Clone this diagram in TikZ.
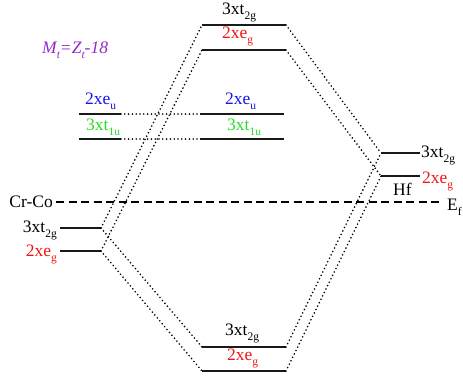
\documentclass[tikz,border=0pt]{standalone}
\usepackage{fontspec}
\setmainfont{Liberation Serif}
\definecolor{myred}{RGB}{240,20,20}
\definecolor{myblue}{RGB}{20,20,240}
\definecolor{mygreen}{RGB}{40,220,40}
\definecolor{mypurple}{RGB}{150,40,200}
\newcommand{\lsub}[1]{\raisebox{-5.5pt}{\fontsize{11.5}{11.5}\selectfont #1}}
\begin{document}
\begin{tikzpicture}[x=1pt,y=-1pt,
  lvl/.style={line width=1.6pt, black!90},
  conn/.style={line width=1.8pt, dash pattern=on 0pt off 3.8pt, line cap=round},
  fermi/.style={line width=1.3pt, dash pattern=on 8pt off 4.5pt},
  lbl/.style={inner sep=0pt, font=\fontsize{17.5}{17.5}\selectfont}]
\useasboundingbox (0,0) rectangle (463,381);
% left levels
\coordinate (L1a) at (79,114);  \coordinate (L1b) at (121,114);
\coordinate (L2a) at (79,139);  \coordinate (L2b) at (121,139);
\coordinate (L3a) at (60,228);  \coordinate (L3b) at (101,228);
\coordinate (L4a) at (60,251);  \coordinate (L4b) at (101,251);
% center levels
\coordinate (C1a) at (202,25);  \coordinate (C1b) at (286,25);
\coordinate (C2a) at (202,50);  \coordinate (C2b) at (286,50);
\coordinate (C3a) at (200,114); \coordinate (C3b) at (284,114);
\coordinate (C4a) at (200,139); \coordinate (C4b) at (284,139);
\coordinate (C5a) at (202,347); \coordinate (C5b) at (286,347);
\coordinate (C6a) at (202,371); \coordinate (C6b) at (286,371);
% right levels
\coordinate (R1a) at (381,153); \coordinate (R1b) at (420,153);
\coordinate (R2a) at (381,176); \coordinate (R2b) at (420,176);
% fermi
\coordinate (FL) at (56,202); \coordinate (FR) at (442,202);

\foreach \p in {L1,L2,L3,L4,C1,C2,C3,C4,C5,C6,R1,R2}
  \draw[lvl] (\p a) -- (\p b);

\draw[fermi] (FL) -- (FR);

\draw[conn] (L1b) -- (C3a);
\draw[conn] (L2b) -- (C4a);
\draw[conn] (L3b) -- (C1a);
\draw[conn] (L4b) -- (C2a);
\draw[conn] (L3b) -- (C5a);
\draw[conn] (L4b) -- (C6a);
\draw[conn] (C1b) -- (R1a);
\draw[conn] (C2b) -- (R2a);
\draw[conn] (C5b) -- (R1a);
\draw[conn] (C6b) -- (R2a);

% labels
\node[lbl, text=mypurple, anchor=base west] (mt) at (42,53) {\textit{M\lsub{t}=Z\lsub{t}-18}};
\node[lbl, anchor=base west] (tC1) at (222,14) {3xt\lsub{2g}};
\node[lbl, text=myred, anchor=base west] (tC2) at (222,38) {2xe\lsub{g}};
\node[lbl, text=myblue, anchor=base west] (tC3) at (225,104) {2xe\lsub{u}};
\node[lbl, text=mygreen, anchor=base west] (tC4) at (227,130) {3xt\lsub{1u}};
\node[lbl, text=myblue, anchor=base west] (tL1) at (85,104) {2xe\lsub{u}};
\node[lbl, text=mygreen, anchor=base west] (tL2) at (86,130) {3xt\lsub{1u}};
\node[lbl, anchor=base east] (crco) at (53,207) {Cr-Co};
\node[lbl, anchor=base east] (tL3) at (57,232) {3xt\lsub{2g}};
\node[lbl, text=myred, anchor=base east] (tL4) at (57,256) {2xe\lsub{g}};
\node[lbl, anchor=base west] (tR1) at (421,157) {3xt\lsub{2g}};
\node[lbl, text=myred, anchor=base west] (tR2) at (422,183) {2xe\lsub{g}};
\node[lbl, anchor=base west] (hf) at (393,195) {Hf};
\node[lbl, anchor=base west] (ef) at (447,210) {E\lsub{f}};
\node[lbl, anchor=base west] (tC5) at (225,335) {3xt\lsub{2g}};
\node[lbl, text=myred, anchor=base west] (tC6) at (227,360) {2xe\lsub{g}};
\end{tikzpicture}
\end{document}
